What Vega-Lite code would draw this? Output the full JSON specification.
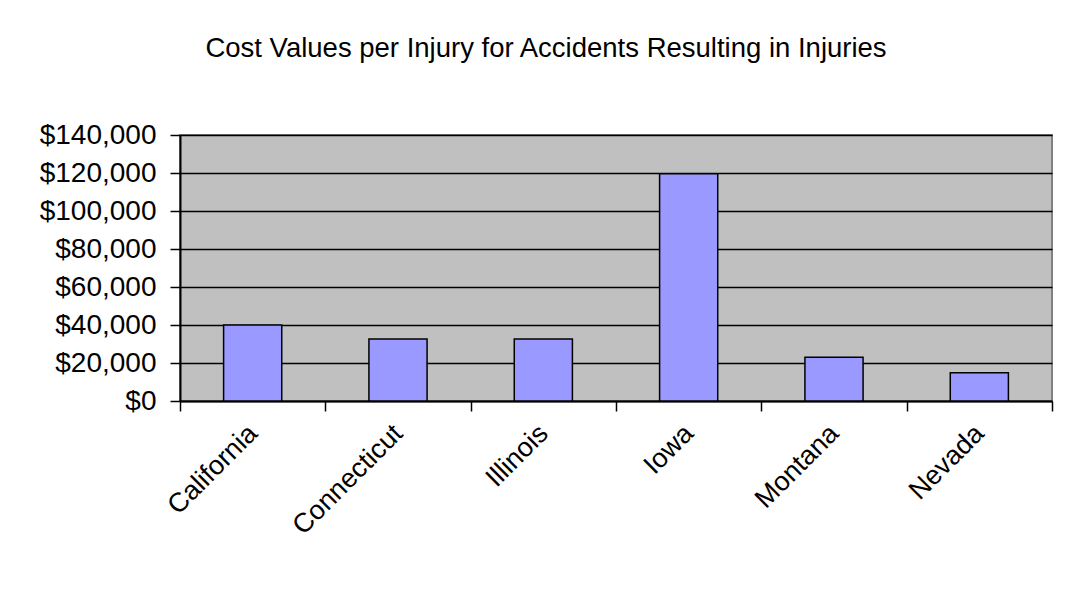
{
  "$schema": "https://vega.github.io/schema/vega-lite/v6.json",
  "autosize": {"type": "none"},
  "width": 872,
  "height": 266,
  "padding": {"left": 180, "top": 135, "right": 15, "bottom": 203},
  "background": "white",
  "title": {
    "text": "Cost Values per Injury for Accidents Resulting in Injuries",
    "font": "Liberation Sans",
    "fontSize": 27.5,
    "fontWeight": "normal",
    "color": "black",
    "anchor": "middle",
    "frame": "group",
    "baseline": "alphabetic",
    "offset": 37,
    "dx": -70
  },
  "data": {
    "values": [
      {"state": "California", "cost": 40000},
      {"state": "Connecticut", "cost": 32600},
      {"state": "Illinois", "cost": 32600},
      {"state": "Iowa", "cost": 119600},
      {"state": "Montana", "cost": 23000},
      {"state": "Nevada", "cost": 14900}
    ]
  },
  "mark": {"type": "bar", "fill": "#9999FF", "stroke": "black", "strokeWidth": 1.5, "width": {"band": 0.4}},
  "encoding": {
    "x": {
      "field": "state",
      "type": "nominal",
      "sort": null,
      "scale": {"paddingInner": 0, "paddingOuter": 0},
      "axis": {
        "title": null,
        "labelAngle": -45,
        "labelAlign": "right",
        "labelBaseline": "middle",
        "labelFont": "Liberation Sans",
        "labelFontSize": 27,
        "labelColor": "black",
        "labelPadding": 18,
        "labelDx": 4,
        "tickBand": "extent",
        "tickSize": 10,
        "tickColor": "black",
        "tickWidth": 1.5,
        "domainColor": "black",
        "domainWidth": 2
      }
    },
    "y": {
      "field": "cost",
      "type": "quantitative",
      "scale": {"domain": [0, 140000]},
      "axis": {
        "title": null,
        "values": [0, 20000, 40000, 60000, 80000, 100000, 120000, 140000],
        "format": "$,.0f",
        "labelFont": "Liberation Sans",
        "labelFontSize": 28,
        "labelColor": "black",
        "labelPadding": 14,
        "tickSize": 10,
        "tickColor": "black",
        "tickWidth": 1.5,
        "domainColor": "black",
        "domainWidth": 2,
        "grid": true,
        "gridColor": "black",
        "gridWidth": 1.5,
        "gridOpacity": 1
      }
    }
  },
  "config": {
    "view": {"fill": "#C0C0C0", "stroke": "#808080", "strokeWidth": 2}
  }
}
